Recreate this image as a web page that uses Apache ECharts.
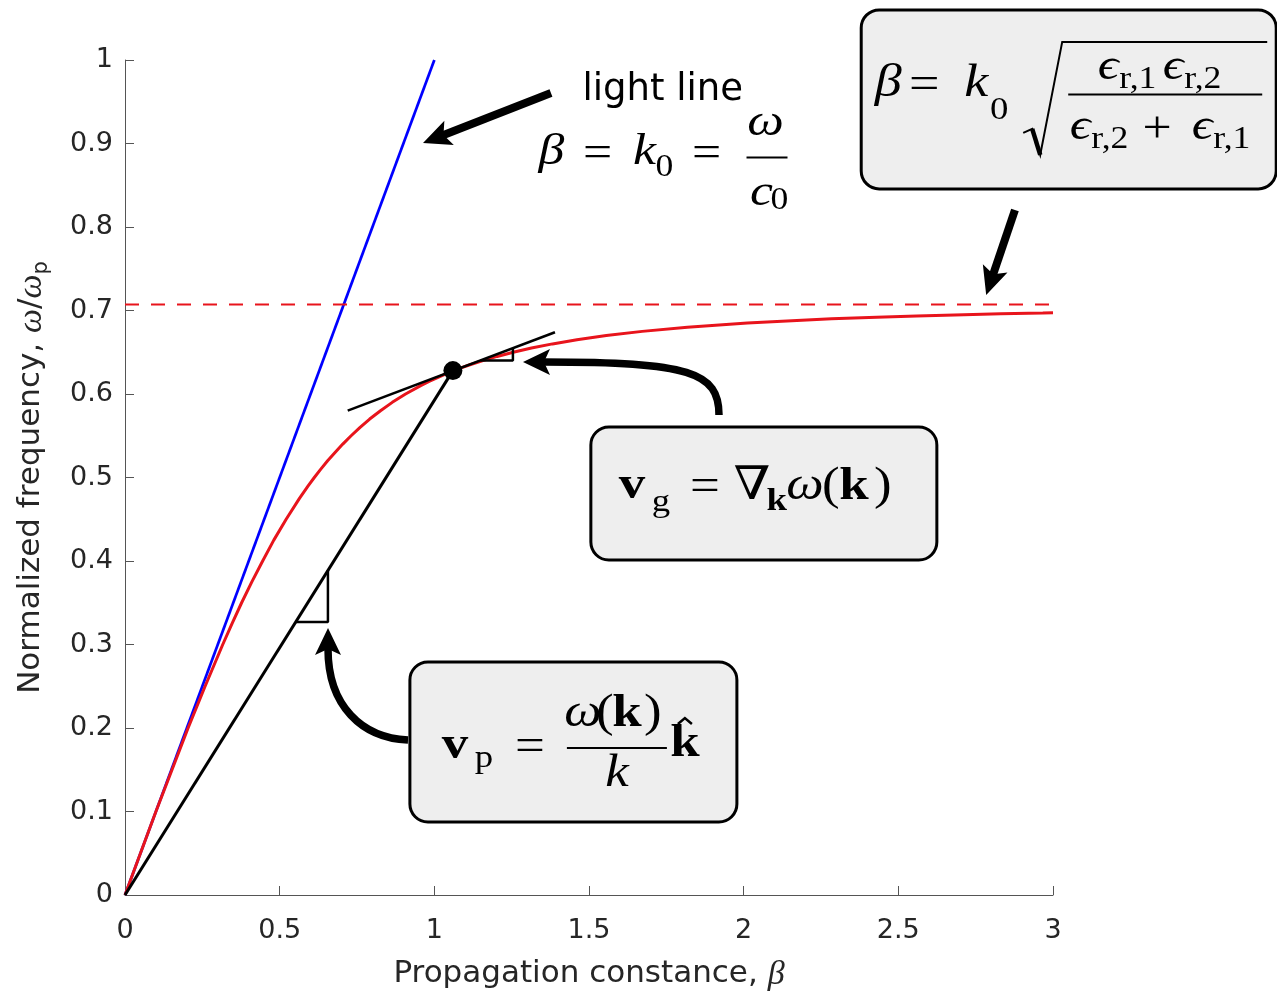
<!DOCTYPE html>
<html><head><meta charset="utf-8">
<script src="https://cdn.jsdelivr.net/npm/echarts@6/dist/echarts.min.js"></script>
<style>html,body{margin:0;padding:0;background:#fff}#c{width:1277px;height:993px}</style>
</head><body><div id="c"></div>
<script>
// ---- data ----
const redBeta  = [0, 0.050, 0.100, 0.152, 0.204, 0.259, 0.316, 0.346, 0.377, 0.410, 0.445, 0.481, 0.521, 0.564, 0.592, 0.612, 0.633, 0.655, 0.679, 0.704, 0.731, 0.760, 0.791, 0.826, 0.864, 0.907, 0.956, 0.983, 1.012, 1.043, 1.077, 1.115, 1.157, 1.203, 1.255, 1.314, 1.382, 1.461, 1.556, 1.672, 1.818, 2.012, 2.284, 2.430, 2.559, 2.712, 2.831, 2.967, 3.000];
const redOmega = [0, 0.05, 0.10, 0.15, 0.20, 0.25, 0.30, 0.325, 0.35, 0.375, 0.40, 0.425, 0.45, 0.475, 0.49, 0.50, 0.51, 0.52, 0.53, 0.54, 0.55, 0.56, 0.57, 0.58, 0.59, 0.60, 0.61, 0.615, 0.62, 0.625, 0.63, 0.635, 0.64, 0.645, 0.65, 0.655, 0.66, 0.665, 0.67, 0.675, 0.68, 0.685, 0.69, 0.692, 0.6935, 0.695, 0.696, 0.697, 0.6973];
const lightBeta = [0, 1];
const lightOmega = [0, 1];
const asymBeta = [0, 3];
const asymOmega = [0.7071, 0.7071];
const phaseBeta = [0, 1.06];
const phaseOmega = [0, 0.628];
const tangentBeta = [0.72, 1.39];
const tangentOmega = [0.580, 0.674];
const triPhaseBeta = [0.552, 0.656, 0.656];
const triPhaseOmega = [0.327, 0.327, 0.389];
const triGroupBeta = [1.150, 1.254, 1.254];
const triGroupOmega = [0.640, 0.640, 0.655];
const pointBeta = [1.06];
const pointOmega = [0.628];
const xTickStep = 0.5;
const yTickStep = 0.1;

// annotation anchors (data units)
const anchorLight = [1.34, 1.0];
const anchorBox1 = [2.38, 1.06];
const anchorBox2 = [1.506, 0.5593];
const anchorBox3 = [0.921, 0.279];
const arrowLight = {from: [1.377, 0.9605], to: [0.9634, 0.9006]};
const arrowAsym = {from: [2.877, 0.8204], to: [2.784, 0.7186]};
const arrowGroup = {s: [1.9203, 0.5749], c1: [1.9203, 0.6263], c2: [1.8265, 0.6383], e: [1.3739, 0.6383]};
const arrowPhase = {s: [0.9149, 0.1856], c1: [0.7662, 0.1880], c2: [0.6563, 0.2263], e: [0.6563, 0.2874]};

const xy = (xs, ys) => xs.map((x, i) => [x, ys[i]]);
const AX = '#555555', TXT = '#262626';
const RED = '#e8141c';

const option = {
  animation: false,
  backgroundColor: '#ffffff',
  grid: {left: 125, right: 224, top: 60, bottom: 98, containLabel: false, outerBoundsMode: 'none'},
  xAxis: {
    type: 'value', min: 0, max: 3, interval: xTickStep,
    name: '{n|Propagation constance, }{i|β}', nameLocation: 'middle', nameGap: 63,
    nameTextStyle: {rich: {
      n: {fontFamily: 'DejaVu Sans', fontSize: 31, color: TXT, lineHeight: 31, verticalAlign: 'top'},
      i: {fontFamily: 'Liberation Serif', fontStyle: 'italic', fontSize: 34, color: TXT, lineHeight: 31, verticalAlign: 'top'}
    }},
    axisLine: {show: true, onZero: false, lineStyle: {color: AX, width: 1}},
    axisTick: {show: true, inside: true, length: 9, lineStyle: {color: AX}},
    axisLabel: {fontFamily: 'DejaVu Sans', fontSize: 27, color: TXT, margin: 22},
    splitLine: {show: false}
  },
  yAxis: {
    type: 'value', min: 0, max: 1, interval: yTickStep,
    name: '{n|Normalized frequency, }{i|ω}{n|/}{i|ω}{s|p}', nameLocation: 'middle', nameGap: 79,
    nameTextStyle: {rich: {
      n: {fontFamily: 'DejaVu Sans', fontSize: 31, color: TXT, lineHeight: 31, verticalAlign: 'top'},
      i: {fontFamily: 'Liberation Serif', fontStyle: 'italic', fontSize: 34, color: TXT, lineHeight: 31, verticalAlign: 'top'},
      s: {fontFamily: 'DejaVu Sans', fontSize: 21, color: TXT, lineHeight: 21, padding: [16, 0, 0, 0], verticalAlign: 'top'}
    }},
    axisLine: {show: true, onZero: false, lineStyle: {color: AX, width: 1}},
    axisTick: {show: true, inside: true, length: 9, lineStyle: {color: AX}},
    axisLabel: {fontFamily: 'DejaVu Sans', fontSize: 27, color: TXT, margin: 12},
    splitLine: {show: false}
  },
  series: [
    {type: 'line', silent: true, data: xy(lightBeta, lightOmega), symbol: 'none', lineStyle: {color: '#0000ff', width: 2.7}, z: 2},
    {type: 'line', silent: true, data: xy(asymBeta, asymOmega), symbol: 'none', lineStyle: {color: RED, width: 2, type: [14, 12]}, z: 2},
    {type: 'line', silent: true, data: xy(redBeta, redOmega), symbol: 'none', smooth: false, lineStyle: {color: RED, width: 3}, z: 3},
    {type: 'line', silent: true, data: xy(phaseBeta, phaseOmega), symbol: 'none', lineStyle: {color: '#000', width: 3}, z: 4},
    {type: 'line', silent: true, data: xy(tangentBeta, tangentOmega), symbol: 'none', lineStyle: {color: '#000', width: 2.5}, z: 4},
    {type: 'line', silent: true, data: xy(triPhaseBeta, triPhaseOmega), symbol: 'none', lineStyle: {color: '#000', width: 2.5}, z: 4},
    {type: 'line', silent: true, data: xy(triGroupBeta, triGroupOmega), symbol: 'none', lineStyle: {color: '#000', width: 2.5}, z: 4},
    {type: 'scatter', silent: true, data: xy(pointBeta, pointOmega), symbol: 'circle', symbolSize: 19, itemStyle: {color: '#000', opacity: 1}, z: 6}
  ]
};

const chart = echarts.init(document.getElementById('c'), null, {renderer: 'canvas'});
chart.setOption(option);
const P = (d) => chart.convertToPixel({gridIndex: 0}, d);

const SERIF = '"Liberation Serif","DejaVu Serif",serif';
function T(x, y, text, o) {
  o = o || {};
  const font = (o.it ? 'italic ' : '') + (o.b ? 'bold ' : '') + (o.fs || 45) + 'px ' + (o.ff || SERIF);
  return {type: 'text', x: x, y: y, scaleX: o.sx == null ? 1.15 : o.sx,
    style: {text: text, font: font, fill: '#000', align: o.al || 'center', verticalAlign: 'middle'}};
}
function L(x1, y1, x2, y2, w) {
  return {type: 'line', shape: {x1, y1, x2, y2}, style: {stroke: '#000', lineWidth: w || 2}};
}
function box(w, h, yOff) {
  return {type: 'rect', shape: {x: 0, y: yOff || 0, width: w, height: h, r: 18}, style: {fill: '#eeeeee', stroke: '#000', lineWidth: 3}};
}
function norm(dx, dy) { const l = Math.hypot(dx, dy); return [dx / l, dy / l]; }
function head(tip, dir, len, hw) {
  const [dx, dy] = dir, px = -dy, py = dx;
  const bx = tip[0] - dx * len, by = tip[1] - dy * len;
  const nx = tip[0] - dx * (len - 6), ny = tip[1] - dy * (len - 6);
  return {type: 'polygon', shape: {points: [tip, [bx + px * hw, by + py * hw], [nx, ny], [bx - px * hw, by - py * hw]]}, style: {fill: '#000'}};
}
function straightArrow(a) {
  const s = P(a.from), t = P(a.to);
  const d = norm(t[0] - s[0], t[1] - s[1]);
  const len = 28;
  return [
    {type: 'line', shape: {x1: s[0], y1: s[1], x2: t[0] - d[0] * (len - 8), y2: t[1] - d[1] * (len - 8)}, style: {stroke: '#000', lineWidth: 8}},
    head(t, d, len, 13)
  ];
}
function curvedArrow(a) {
  const s = P(a.s), c1 = P(a.c1), c2 = P(a.c2), e = P(a.e);
  const d = norm(e[0] - c2[0], e[1] - c2[1]);
  const len = 27;
  const tip = [e[0] + d[0] * len, e[1] + d[1] * len];
  return [
    {type: 'bezierCurve', shape: {x1: s[0], y1: s[1], cpx1: c1[0], cpy1: c1[1], cpx2: c2[0], cpy2: c2[1], x2: e[0] + d[0] * 6, y2: e[1] + d[1] * 6}, style: {stroke: '#000', lineWidth: 7.5, fill: null}},
    head(tip, d, len, 13)
  ];
}

const pL = P(anchorLight), p1 = P(anchorBox1), p2 = P(anchorBox2), p3 = P(anchorBox3);
const graphics = [
  {type: 'group', x: pL[0], y: pL[1], z: 100, children: [
    T(43, 30, 'light line', {ff: '"DejaVu Sans",sans-serif', fs: 37, al: 'left', sx: 1}),
    T(12, 92, 'β', {it: 1}),
    T(58, 94, '='),
    T(105, 92, 'k', {it: 1}),
    T(125, 107.5, '0', {fs: 31}),
    T(167, 94, '='),
    T(226, 63, 'ω', {it: 1}),
    L(207, 97.5, 248, 97.5, 2),
    T(222, 133, 'c', {it: 1}),
    T(240, 140.5, '0', {fs: 31})
  ]},
  {type: 'group', x: p1[0], y: p1[1], z: 100, children: [
    box(415, 179),
    T(27, 74, 'β', {it: 1, fs: 47}),
    T(63, 76, '=', {fs: 47}),
    T(115, 74, 'k', {it: 1, fs: 47}),
    T(138, 101, '0', {fs: 32}),
    {type: 'polyline', shape: {points: [[162, 123], [171, 119], [179, 145], [201, 32], [406, 32]]}, style: {stroke: '#000', lineWidth: 2, fill: null}},
    L(171, 119, 179, 145, 4.5),
    L(207, 84.5, 401, 84.5, 2),
    T(247, 57, 'ϵ', {it: 1, fs: 45}),
    T(258, 70, 'r,1', {fs: 31, al: 'left'}),
    T(312, 57, 'ϵ', {it: 1, fs: 45}),
    T(323, 70, 'r,2', {fs: 31, al: 'left'}),
    T(219, 117, 'ϵ', {it: 1, fs: 45}),
    T(230, 130, 'r,2', {fs: 31, al: 'left'}),
    T(296, 120, '+', {fs: 45}),
    T(341, 117, 'ϵ', {it: 1, fs: 45}),
    T(352, 130, 'r,1', {fs: 31, al: 'left'})
  ]},
  {type: 'group', x: p2[0], y: p2[1], z: 100, children: [
    box(346, 133, -1),
    T(41, 58, 'v', {b: 1, fs: 46}),
    T(70, 75, 'g', {fs: 32}),
    T(114, 60, '=', {fs: 46}),
    T(161, 59, '∇', {fs: 46}),
    T(186, 74, 'k', {b: 1, fs: 32}),
    T(214, 59, 'ω', {it: 1, fs: 46}),
    T(240, 59, '(', {fs: 46}),
    T(263, 59, 'k', {b: 1, fs: 46}),
    T(292, 59, ')', {fs: 46})
  ]},
  {type: 'group', x: p3[0], y: p3[1], z: 100, children: [
    box(327, 160),
    T(45, 84, 'v', {b: 1, fs: 46}),
    T(74, 97, 'p', {fs: 32}),
    T(120, 86, '=', {fs: 46}),
    L(157, 86, 257, 86, 2),
    T(173, 52, 'ω', {it: 1, fs: 46}),
    T(195, 52, '(', {fs: 46}),
    T(217, 52, 'k', {b: 1, fs: 46}),
    T(243, 52, ')', {fs: 46}),
    T(207, 112, 'k', {it: 1, fs: 46}),
    T(275, 82, 'k', {b: 1, fs: 46}),
    {type: 'polyline', shape: {points: [[268, 62], [275, 56], [282, 62]]}, style: {stroke: '#000', lineWidth: 2.5, fill: null}}
  ]},
  {type: 'group', z: 101, children: [].concat(
    straightArrow(arrowLight),
    straightArrow(arrowAsym),
    curvedArrow(arrowGroup),
    curvedArrow(arrowPhase)
  )}
];
chart.setOption({graphic: graphics});
</script>
</body></html>
